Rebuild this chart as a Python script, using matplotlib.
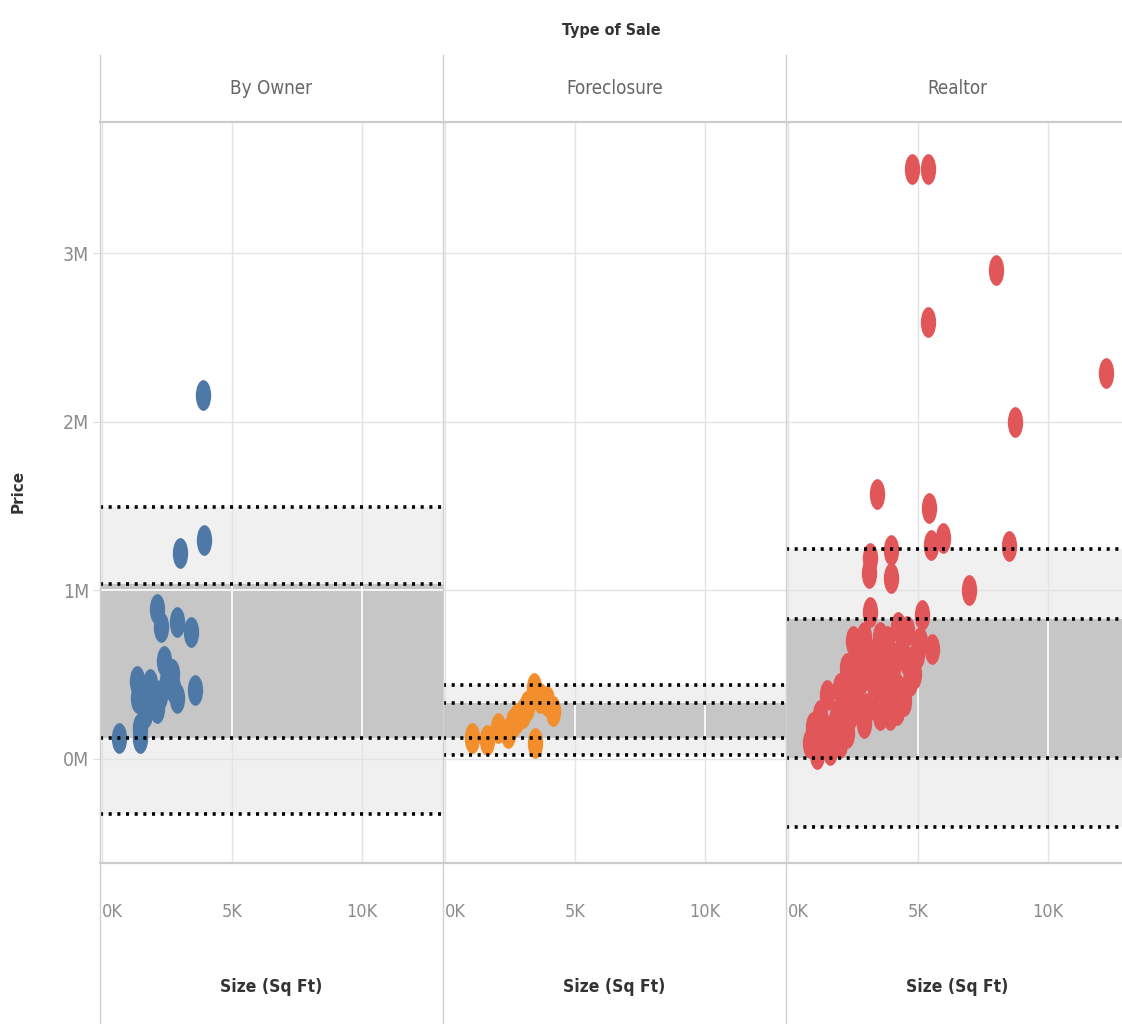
import matplotlib
matplotlib.use("Agg")
import matplotlib.pyplot as plt
from matplotlib.path import Path
from matplotlib.transforms import Affine2D
from matplotlib.lines import Line2D

plt.rcParams['font.family'] = ['DejaVu Sans']
plt.rcParams['font.stretch'] = 'condensed'

# ---------------- data ----------------
panel_titles = ["By Owner", "Foreclosure", "Realtor"]
colors = ["#4e79a7", "#f28e2b", "#e15759"]

# Size in thousands of sq ft, Price in millions
owner_size = [3.88, 3.92, 3.0, 2.1, 2.27, 2.88, 3.42, 2.38, 2.69, 1.35, 1.85, 3.58,
              2.88, 2.23, 2.1, 1.65, 1.46, 1.46, 0.65, 2.5, 1.96, 1.73, 2.73, 1.38]
owner_price = [2.16, 1.30, 1.22, 0.89, 0.78, 0.81, 0.75, 0.58, 0.50, 0.46, 0.44, 0.41,
               0.36, 0.38, 0.30, 0.27, 0.18, 0.12, 0.12, 0.46, 0.36, 0.34, 0.42, 0.36]

fore_size = [1.04, 1.6, 2.05, 2.4, 2.75, 3.15, 3.4, 3.65, 4.15, 3.9, 3.45, 3.0, 2.6]
fore_price = [0.125, 0.11, 0.18, 0.15, 0.24, 0.31, 0.42, 0.36, 0.28, 0.34, 0.09, 0.27, 0.21]

realtor_size = [4.77, 5.38, 8.0, 5.38, 12.23, 8.73, 3.42, 5.42, 5.5, 5.96, 8.5, 3.15,
                3.12, 3.96, 3.96, 6.96, 3.15, 5.15, 5.54, 5.08,
                1.49, 2.26, 2.51, 2.90, 3.80, 4.24, 4.56, 4.82, 4.44, 3.92, 2.90, 2.0,
                1.62, 0.97, 1.10, 3.28, 3.54, 2.26, 2.64, 3.03, 4.05, 4.31, 3.67, 3.28,
                2.77, 1.87, 1.36, 2.38, 3.03, 3.54, 4.18, 4.69, 3.80, 2.51, 2.0, 1.23,
                1.74, 2.26, 2.77, 3.41, 3.92, 4.56, 4.95, 1.49, 0.85, 2.13, 4.18, 2.90,
                3.54, 2.26]
realtor_price = [3.50, 3.50, 2.90, 2.59, 2.29, 2.00, 1.57, 1.49, 1.27, 1.31, 1.26, 1.19,
                 1.10, 1.24, 1.07, 1.00, 0.87, 0.85, 0.65, 0.69,
                 0.38, 0.54, 0.70, 0.72, 0.70, 0.78, 0.76, 0.50, 0.34, 0.26, 0.21, 0.09,
                 0.05, 0.19, 0.03, 0.46, 0.36, 0.36, 0.42, 0.54, 0.54, 0.62, 0.62, 0.62,
                 0.46, 0.26, 0.15, 0.26, 0.30, 0.26, 0.42, 0.46, 0.42, 0.54, 0.42, 0.26,
                 0.19, 0.15, 0.30, 0.54, 0.46, 0.58, 0.62, 0.11, 0.09, 0.23, 0.29, 0.64,
                 0.72, 0.46]

sizes = [owner_size, fore_size, realtor_size]
prices = [owner_price, fore_price, realtor_price]

# distribution bands (mean +/- 1 and 2 std dev), in millions
band_mean = [0.580, 0.228, 0.418]
band_std = [0.456, 0.104, 0.412]

x_ticks = [0, 5, 10]
x_ticklabels = ["0K", "5K", "10K"]
y_ticks = [0, 1, 2, 3]
y_ticklabels = ["0M", "1M", "2M", "3M"]

# ---------------- layout ----------------
W, H = 1122, 1024
fig = plt.figure(figsize=(W / 100, H / 100), dpi=100)

left_px = [100, 443, 786]
panel_w = 343
top_px, bot_px = 122, 863

ell = Path.unit_circle().transformed(Affine2D().scale(0.5, 1.0))

tick_col = "#8c8c8c"
axes = []
for i in range(3):
    ax = fig.add_axes([left_px[i] / W, 1 - bot_px / H, panel_w / W, (bot_px - top_px) / H])
    axes.append(ax)
    ax.set_xlim(-0.08, 13.1)
    ax.set_ylim(-0.62, 3.78)
    for sp in ax.spines.values():
        sp.set_visible(False)

    m, s = band_mean[i], band_std[i]
    ax.axhspan(m - 2 * s, m + 2 * s, color="#f0f0f0", lw=0, zorder=0.2)
    ax.set_axisbelow(True)
    ax.grid(True, color="#e4e4e4", lw=1.0)
    dark = ax.axhspan(m - s, m + s, color="#c6c6c6", lw=0, zorder=0.7)
    for xt in x_ticks[1:]:
        ln = ax.axvline(xt, color="white", lw=1.2, zorder=0.8)
        ln.set_clip_path(dark)
    for yt in y_ticks:
        ln = ax.axhline(yt, color="white", lw=1.2, zorder=0.8)
        ln.set_clip_path(dark)

    ax.scatter(sizes[i], prices[i], s=490, marker=ell, color=colors[i],
               linewidths=0, zorder=2)

    for k in (-2, -1, 1, 2):
        ax.axhline(m + k * s, color="black", lw=2.6,
                   linestyle=(0, (0.85, 1.55)), zorder=3)

    ax.set_xticks(x_ticks)
    ax.set_xticklabels(x_ticklabels, fontsize=13, color=tick_col)
    ax.tick_params(axis="x", length=0, pad=29)
    ax.get_xticklabels()[0].set_horizontalalignment("left")

    ax.set_yticks(y_ticks)
    if i == 0:
        ax.set_yticklabels(y_ticklabels, fontsize=14, color=tick_col)
        ax.tick_params(axis="y", length=5, color="#dddddd", pad=3)
    else:
        ax.set_yticklabels([])
        ax.tick_params(axis="y", length=0)

    cx = (left_px[i] + panel_w / 2) / W
    fig.text(cx, 1 - 88 / H, panel_titles[i], ha="center", va="center",
             fontsize=13.5, color="#666666")
    fig.text(cx, 1 - 987 / H, "Size (Sq Ft)", ha="center", va="center",
             fontsize=12.5, color="#333333", fontweight="bold")

# header title
fig.text((100 + 1122) / 2 / W, 1 - 30 / H, "Type of Sale", ha="center", va="center",
         fontsize=11.5, color="#333333", fontweight="bold")
# y label
fig.text(18 / W, 1 - 491 / H, "Price", rotation=90, ha="center", va="center",
         fontsize=11, color="#333333", fontweight="bold", fontstretch="normal")

# frame lines
for xp in left_px:
    fig.add_artist(Line2D([xp / W, xp / W], [1 - 55 / H, 0], color="#d0d0d0", lw=1.0,
                          transform=fig.transFigure))
for yp in (top_px, bot_px):
    fig.add_artist(Line2D([100 / W, 1.0], [1 - yp / H, 1 - yp / H], color="#cccccc", lw=1.6,
                          transform=fig.transFigure))

fig.savefig("out.png", dpi=100, facecolor="white")
